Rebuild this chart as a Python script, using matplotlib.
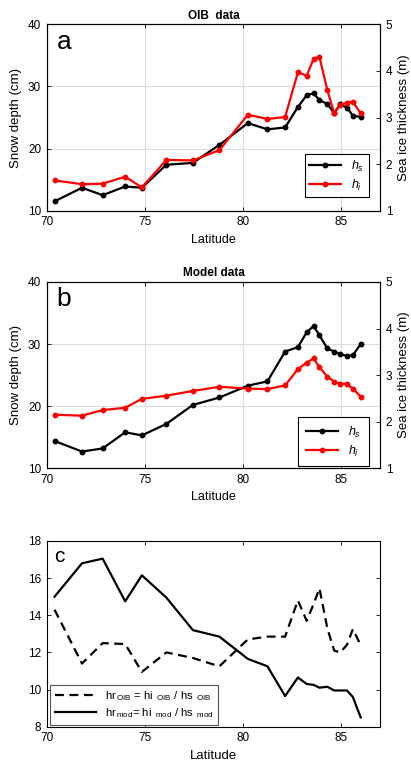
import numpy as np
import matplotlib
matplotlib.use('Agg')
import matplotlib.pyplot as plt

plt.rcParams['font.family'] = ['Liberation Sans', 'DejaVu Sans']
plt.rcParams['mathtext.fontset'] = 'custom'
plt.rcParams['mathtext.rm'] = 'Liberation Sans'
plt.rcParams['mathtext.it'] = 'Liberation Sans:italic'
plt.rcParams['font.size'] = 8.5

# latitude of the bins
lat = [70.4, 71.8, 72.85, 74.0, 74.85, 76.1, 77.45, 78.8, 80.25, 81.25, 82.15,
       82.8, 83.25, 83.6, 83.9, 84.3, 84.65, 84.95, 85.3, 85.6, 86.0]

# OIB: snow depth (cm), ice thickness (m)
hs_oib = [11.5, 13.7, 12.5, 13.9, 13.7, 17.4, 17.7, 20.6, 24.1, 23.1, 23.4,
          26.7, 28.6, 28.9, 27.8, 27.2, 25.7, 27.1, 26.6, 25.3, 25.1]
hi_oib = [1.65, 1.57, 1.58, 1.73, 1.50, 2.09, 2.08, 2.30, 3.06, 2.97, 3.01,
          3.97, 3.90, 4.26, 4.30, 3.59, 3.09, 3.27, 3.32, 3.34, 3.09]

# model
hs_mod = [14.4, 12.7, 13.2, 15.8, 15.3, 17.15, 20.2, 21.4, 23.3, 24.0, 28.8,
          29.5, 31.9, 32.9, 31.4, 29.3, 28.8, 28.4, 28.1, 28.2, 30.0]
hi_mod = [2.15, 2.13, 2.25, 2.30, 2.49, 2.56, 2.66, 2.75, 2.71, 2.70, 2.78,
          3.13, 3.27, 3.36, 3.17, 2.97, 2.86, 2.82, 2.81, 2.71, 2.54]

# ratio hi/hs
hr_oib = [14.3, 11.4, 12.5, 12.45, 10.95, 12.0, 11.7, 11.25, 12.7, 12.85, 12.85,
          14.8, 13.7, 14.6, 15.45, 13.3, 12.1, 12.0, 12.4, 13.25, 12.4]
hr_mod = [15.0, 16.8, 17.05, 14.75, 16.15, 14.95, 13.2, 12.85, 11.65, 11.25, 9.65,
          10.65, 10.3, 10.25, 10.1, 10.15, 9.95, 9.95, 9.95, 9.6, 8.5]

fig = plt.figure(figsize=(4.11, 7.61), dpi=100)

L, W = 0.1136, 0.8117


def style(ax):
    ax.tick_params(direction='in', length=3, width=0.6, labelsize=8.5, pad=4)
    for s in ax.spines.values():
        s.set_linewidth(0.8)


def depth_panel(bottom, hs, hi, title, letter, leg_y, bpad):
    ax = fig.add_axes([L, bottom, W, 0.2449])
    ax2 = ax.twinx()
    l1, = ax.plot(lat, hs, '-o', color='k', lw=1.6, ms=3.2)
    l2, = ax2.plot(lat, hi, '-o', color='#ff0000', lw=1.6, ms=3.2)
    ax.set_xlim(70, 87)
    ax.set_ylim(10, 40)
    ax2.set_ylim(1, 5)
    ax.set_xticks([70, 75, 80, 85])
    ax.set_yticks([10, 20, 30, 40])
    ax2.set_yticks([1, 2, 3, 4, 5])
    ax.grid(True, color='#dcdcdc', lw=0.8)
    ax.set_axisbelow(True)
    style(ax)
    style(ax2)
    ax.tick_params(top=True)
    ax.set_xlabel('Latitude', fontsize=9)
    ax.set_ylabel('Snow depth (cm)', fontsize=9.5)
    ax2.set_ylabel('Sea ice thickness (m)', fontsize=9.5)
    ax.set_title(title, fontsize=8.5, fontweight='bold', pad=4)
    ax.text(0.03, 0.87, letter, transform=ax.transAxes, fontsize=19, va='baseline')
    leg = ax2.legend([l1, l2], ['$h_s$', '$h_i$'], loc='lower right',
                     bbox_to_anchor=(0.966, leg_y), fontsize=9, handlelength=2.6,
                     fancybox=False, edgecolor='k', framealpha=1,
                     borderpad=bpad, labelspacing=0.3, borderaxespad=0)
    leg.get_frame().set_linewidth(0.8)
    return ax


depth_panel(0.7231, hs_oib, hi_oib, 'OIB  data', 'a', 0.073, 0.35)
depth_panel(0.3846, hs_mod, hi_mod, 'Model data', 'b', 0.012, 0.6)

ax = fig.add_axes([L, 0.0451, W, 0.2440])
ax.plot(lat, hr_oib, color='k', lw=1.6, dashes=(4, 2.5),
        label=r'hr$_{\,\mathrm{OIB}}$ = hi $_{\,\mathrm{OIB}}$ / hs $_{\,\mathrm{OIB}}$')
ax.plot(lat, hr_mod, color='k', lw=1.6,
        label=r'hr$_{\,\mathrm{mod}}$= hi $_{\,\mathrm{mod}}$ / hs $_{\,\mathrm{mod}}$')
ax.set_xlim(70, 87)
ax.set_ylim(8, 18)
ax.set_xticks([70, 75, 80, 85])
ax.set_yticks([8, 10, 12, 14, 16, 18])
style(ax)
ax.tick_params(top=True, right=True)
ax.set_xlabel('Latitude', fontsize=9.5)
ax.text(0.023, 0.889, 'c', transform=ax.transAxes, fontsize=15, va='baseline')
leg = ax.legend(loc='lower left', bbox_to_anchor=(0.01, 0.01), fontsize=8.2,
                handlelength=3.6, fancybox=False, edgecolor='#555555',
                framealpha=1, borderpad=0.4, labelspacing=0.3, borderaxespad=0)
leg.get_frame().set_linewidth(0.8)

fig.savefig('out.png', dpi=100)
